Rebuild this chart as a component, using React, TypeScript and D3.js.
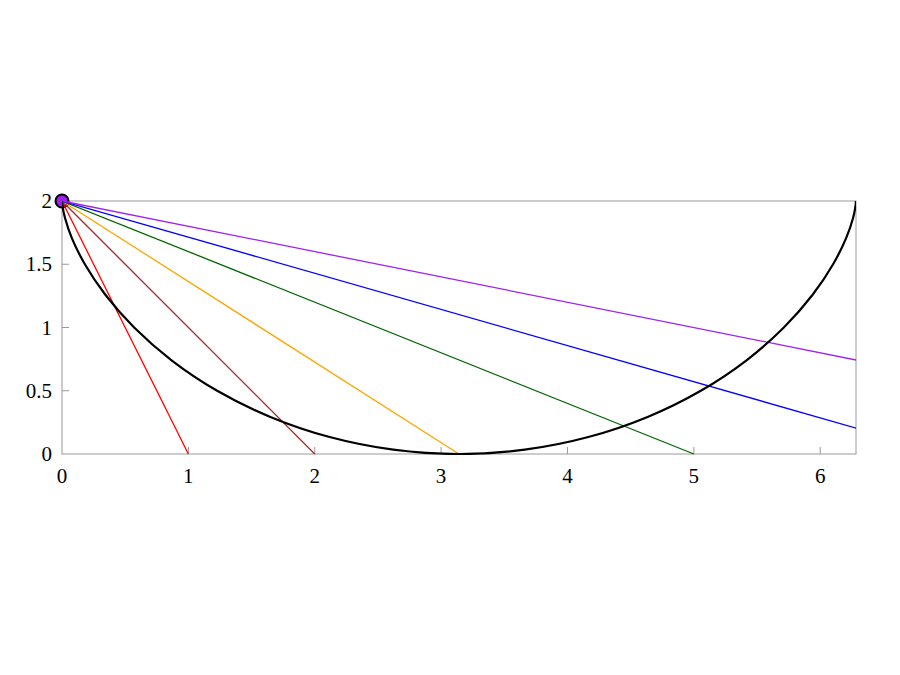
import React from 'react';
import * as d3 from 'd3';

// cycloid samples
const curveX = [0, 0.003, 0.024, 0.078, 0.181, 0.343, 0.571, 0.867, 1.228, 1.649, 2.118, 2.621, 3.142,
  3.662, 4.165, 4.634, 5.055, 5.417, 5.712, 5.940, 6.102, 6.205, 6.260, 6.280, 6.283];
const curveY = [2, 1.966, 1.866, 1.707, 1.5, 1.259, 1.0, 0.741, 0.5, 0.293, 0.134, 0.034, 0,
  0.034, 0.134, 0.293, 0.5, 0.741, 1.0, 1.259, 1.5, 1.707, 1.866, 1.966, 2];

// straight lines from the start point to points on the x axis
const lineEnds = [1, 2, Math.PI, 5, 7, 10];
const lineColors = ['#ff0000', '#a52a2a', '#ffa500', '#006400', '#0000ff', '#a020f0'];

const xTicks = [0, 1, 2, 3, 4, 5, 6];
const yTicks = [0, 0.5, 1, 1.5, 2];
const yTickLabels = ['0', '0.5', '1', '1.5', '2'];

const App: React.FC = () => {
  const width = 900;
  const height = 675;
  const left = 62;
  const right = 856;
  const top = 201;
  const bottom = 454;

  const x = d3.scaleLinear().domain([0, 2 * Math.PI]).range([left, right]);
  const y = d3.scaleLinear().domain([0, 2]).range([bottom, top]);

  const pts: [number, number][] = curveX.map((v, i) => [v, curveY[i]]);
  const cyc = d3.line<[number, number]>()
    .x(d => x(d[0]))
    .y(d => y(d[1]))
    .curve(d3.curveCatmullRom.alpha(0.5))(pts);

  const font = "'Liberation Serif', 'DejaVu Serif', serif";
  const frame = '#9a9a9a';

  return (
    <svg width={width} height={height} style={{ position: 'absolute', left: 0, top: 0, background: '#fff' }}>
      <defs>
        <clipPath id="plotclip">
          <rect x={left} y={top - 1} width={right - left} height={bottom - top + 2} />
        </clipPath>
      </defs>
      {/* ticks */}
      {xTicks.filter(t => t > 0).map(t => (
        <line key={'xt' + t} x1={x(t)} x2={x(t)} y1={bottom} y2={bottom - 7} stroke={frame} strokeWidth={1} />
      ))}
      {yTicks.filter(t => t > 0 && t < 2).map(t => (
        <line key={'yt' + t} x1={left} x2={left + 7} y1={y(t)} y2={y(t)} stroke={frame} strokeWidth={1} />
      ))}
      <rect x={left} y={top} width={right - left} height={bottom - top} fill="none" stroke={frame} strokeWidth={1} />

      <circle cx={x(0)} cy={y(2)} r={6.5} fill="#a020f0" stroke="#000" strokeWidth={2} />
      <g clipPath="url(#plotclip)">
        {lineEnds.map((e, i) => (
          <line key={'l' + i} x1={x(0)} y1={y(2)} x2={x(e)} y2={y(0)} stroke={lineColors[i]} strokeWidth={1.3} />
        ))}
        <path d={cyc || ''} fill="none" stroke="#000" strokeWidth={2.2} />
      </g>

      {/* tick labels */}
      {xTicks.map(t => (
        <text key={'xl' + t} x={x(t)} y={bottom + 29} textAnchor="middle" style={{ fontFamily: font, fontSize: 21 }} fill="#000">{t}</text>
      ))}
      {yTicks.map((t, i) => (
        <text key={'yl' + t} x={left - 10} y={y(t) + 7} textAnchor="end" style={{ fontFamily: font, fontSize: 21 }} fill="#000">{yTickLabels[i]}</text>
      ))}
    </svg>
  );
};

export default App;
